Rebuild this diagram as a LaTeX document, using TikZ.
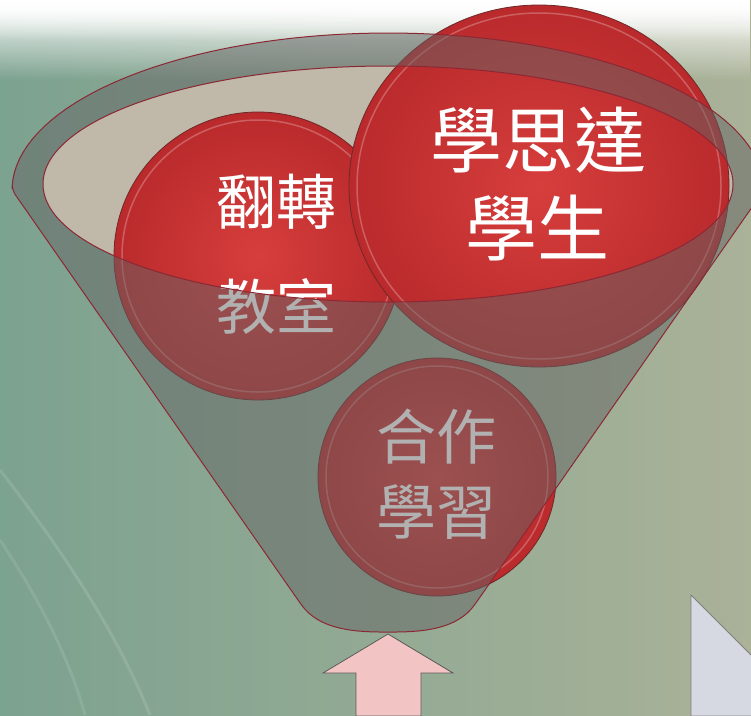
\documentclass[tikz,border=0pt]{standalone}
\usepackage{fontspec}
\newfontfamily\cjk{Noto Sans CJK TC}
\usetikzlibrary{fadings}
\definecolor{bgteal}{RGB}{124,162,144}
\definecolor{bgolive}{RGB}{170,178,152}
\definecolor{rimred}{RGB}{140,40,52}
\definecolor{ballred}{RGB}{214,62,60}
\definecolor{balldark}{RGB}{186,42,44}
\definecolor{ballrim}{RGB}{110,40,40}
\definecolor{opening}{RGB}{192,185,170}
\definecolor{glass}{RGB}{100,100,100}
\definecolor{arrowpink}{RGB}{242,196,196}
\definecolor{sheet}{RGB}{214,217,226}
\tikzset{
  bubble/.style={inner color=ballred, outer color=balldark, draw=ballrim, line width=0.8pt},
  gloss/.style={white, opacity=0.25, line width=1.5pt},
  word/.style={text=white, inner sep=0pt, anchor=center},
  funnel/.style={fill=glass, fill opacity=0.5, draw=rimred, line width=1pt, even odd rule},
}
\begin{document}
\begin{tikzpicture}[x=1pt, y=-1pt]
  \useasboundingbox (0,0) rectangle (751,715);
  % background
  \shade[left color=bgteal, right color=bgolive] (0,0) rectangle (751,715);
  \fill[white, path fading=south] (0,0) rectangle (751,80);
  \fill[white, path fading=south] (0,0) rectangle (751,40);
  \draw[white, opacity=0.12, line width=3pt] (0,470) .. controls (70,560) and (120,640) .. (150,715);
  \draw[white, opacity=0.1, line width=3pt] (0,540) .. controls (40,600) and (70,660) .. (85,715);
  % opening of the funnel
  \fill[opening] (388,184) ellipse[x radius=345, y radius=118];
  % the three balls
  \shadedraw[bubble] (258,256) circle[radius=144];
  \draw[gloss] (258,256) circle[radius=136];
  \shadedraw[bubble] (539,186) ellipse[x radius=190, y radius=181];
  \draw[gloss] (539,186) ellipse[x radius=182, y radius=173];
  \shadedraw[bubble] (437,477) circle[radius=119];
  \draw[gloss] (437,477) circle[radius=111];
  \foreach \name/\x/\y/\size/\txt in {
    flipA/276/202/60/翻轉, flipB/276/306/60/教室,
    mapsA/538/140/72/學思達, mapsB/537/228/72/學生,
    coopA/436/437/60/合作, coopB/436/512/60/學習} {
    \node[word, font=\cjk\fontsize{\size}{\size}\selectfont] (\name) at (\x,\y) {\txt};
  }
  % funnel body and rim
  \path[funnel, rounded corners=6pt] plot[domain=180:360, samples=73] ({388+376*cos(\x)}, {190+157*sin(\x)})
    -- (478,600) .. controls (458,628) and (426,632) .. (388,632)
    .. controls (350,632) and (318,628) .. (298,600) -- cycle
    (388,184) ellipse[x radius=345, y radius=118];
  % arrow and sheet
  \filldraw[fill=arrowpink, draw=gray!70!black, line width=0.8pt] (388,634) -- (453,673) -- (421,673)
    -- (421,716) -- (356,716) -- (356,673) -- (323,673) -- cycle;
  \filldraw[fill=sheet, draw=gray, line width=0.8pt] (691,595) -- (752,656) -- (752,716) -- (691,716) -- cycle;
\end{tikzpicture}
\end{document}
